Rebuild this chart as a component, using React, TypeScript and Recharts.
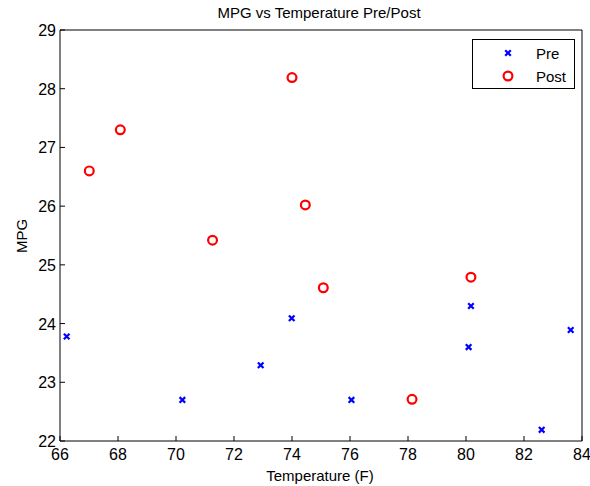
import { ScatterChart, Scatter, XAxis, YAxis } from "recharts";

const FONT = "'Liberation Sans', Arial, sans-serif";

const xTicks = [66, 68, 70, 72, 74, 76, 78, 80, 82, 84];
const yTicks = [22, 23, 24, 25, 26, 27, 28, 29];

const preTemp = [66.23, 70.22, 72.92, 73.99, 76.05, 80.09, 80.17, 82.61, 83.61];
const preMpg = [23.78, 22.7, 23.29, 24.09, 22.7, 23.6, 24.3, 22.19, 23.89];

const postTemp = [67.01, 68.08, 71.26, 74.0, 74.46, 75.08, 78.14, 80.17];
const postMpg = [26.6, 27.3, 25.42, 28.19, 26.02, 24.61, 22.71, 24.79];

const preData = preTemp.map((t, i) => ({ t, mpg: preMpg[i] }));
const postData = postTemp.map((t, i) => ({ t, mpg: postMpg[i] }));

const BLUE = "#0000ff";
const RED = "#ff0000";

function XMark({ cx, cy }: any) {
  const s = 2.8;
  return (
    <g stroke={BLUE} strokeWidth={2.2}>
      <line x1={cx - s} y1={cy - s} x2={cx + s} y2={cy + s} />
      <line x1={cx - s} y1={cy + s} x2={cx + s} y2={cy - s} />
    </g>
  );
}

function OMark({ cx, cy }: any) {
  return <circle cx={cx} cy={cy} r={4.4} fill="none" stroke={RED} strokeWidth={2.2} />;
}

/* ticks point inward, MATLAB style */
function BottomTick({ x, y, payload }: any) {
  return (
    <g>
      <line x1={x} y1={y} x2={x} y2={y - 5} stroke="#000" />
      <text x={x} y={y + 19} textAnchor="middle" fontSize={16} fontFamily={FONT} fill="#000">
        {payload.value}
      </text>
    </g>
  );
}

function LeftTick({ x, y, payload }: any) {
  return (
    <g>
      <line x1={x} y1={y} x2={x + 5} y2={y} stroke="#000" />
      <text x={x - 4} y={y + 6} textAnchor="end" fontSize={16} fontFamily={FONT} fill="#000">
        {payload.value}
      </text>
    </g>
  );
}

function TopTick({ x, y }: any) {
  return <line x1={x} y1={y} x2={x} y2={y + 5} stroke="#000" />;
}

function RightTick({ x, y }: any) {
  return <line x1={x} y1={y} x2={x - 5} y2={y} stroke="#000" />;
}

function LegendBox() {
  const rows = [
    { name: "Pre", mark: <XMark cx={8} cy={8} /> },
    { name: "Post", mark: <OMark cx={8} cy={8} /> },
  ];
  return (
    <div
      style={{
        position: "absolute",
        left: 472,
        top: 39,
        width: 101,
        height: 48,
        border: "1px solid #000",
        background: "#fff",
        fontFamily: FONT,
        fontSize: 15,
      }}
    >
      {rows.map((r, i) => (
        <div
          key={r.name}
          style={{ position: "absolute", left: 27, top: 5 + i * 23, height: 16, display: "flex", alignItems: "center" }}
        >
          <svg width={16} height={16}>{r.mark}</svg>
          <span style={{ marginLeft: 20 }}>{r.name}</span>
        </div>
      ))}
    </div>
  );
}

export default function App() {
  return (
    <div style={{ position: "absolute", left: 0, top: 0, width: 590, height: 486, background: "#fff" }}>
      <ScatterChart width={590} height={486} margin={{ top: 0, right: 0, bottom: 0, left: 0 }}>
        <XAxis
          dataKey="t"
          type="number"
          domain={[66, 84]}
          ticks={xTicks}
          height={45}
          tickSize={0}
          tickMargin={0}
          tickLine={false}
          axisLine={{ stroke: "#000" }}
          tick={<BottomTick />}
          label={{
            content: () => (
              <text x={320} y={481} textAnchor="middle" fontSize={15} fontFamily={FONT} fill="#000">
                Temperature (F)
              </text>
            ),
          }}
        />
        <XAxis
          xAxisId="top"
          orientation="top"
          type="number"
          domain={[66, 84]}
          ticks={xTicks}
          height={30}
          tickSize={0}
          tickMargin={0}
          tickLine={false}
          axisLine={{ stroke: "#000" }}
          tick={<TopTick />}
          label={{
            content: () => (
              <text x={319} y={18} textAnchor="middle" fontSize={15} fontFamily={FONT} fill="#000">
                MPG vs Temperature Pre/Post
              </text>
            ),
          }}
        />
        <YAxis
          dataKey="mpg"
          type="number"
          domain={[22, 29]}
          ticks={yTicks}
          width={60}
          tickSize={0}
          tickMargin={0}
          tickLine={false}
          axisLine={{ stroke: "#000" }}
          tick={<LeftTick />}
          label={{
            content: () => (
              <text
                x={27}
                y={236}
                textAnchor="middle"
                fontSize={15}
                fontFamily={FONT}
                fill="#000"
                transform="rotate(-90 27 236)"
              >
                MPG
              </text>
            ),
          }}
        />
        <YAxis
          yAxisId="right"
          orientation="right"
          type="number"
          domain={[22, 29]}
          ticks={yTicks}
          width={8}
          tickSize={0}
          tickMargin={0}
          tickLine={false}
          axisLine={{ stroke: "#000" }}
          tick={<RightTick />}
        />
        <Scatter name="Pre" data={preData} shape={<XMark />} isAnimationActive={false} />
        <Scatter name="Post" data={postData} shape={<OMark />} isAnimationActive={false} />
      </ScatterChart>
      <LegendBox />
    </div>
  );
}
